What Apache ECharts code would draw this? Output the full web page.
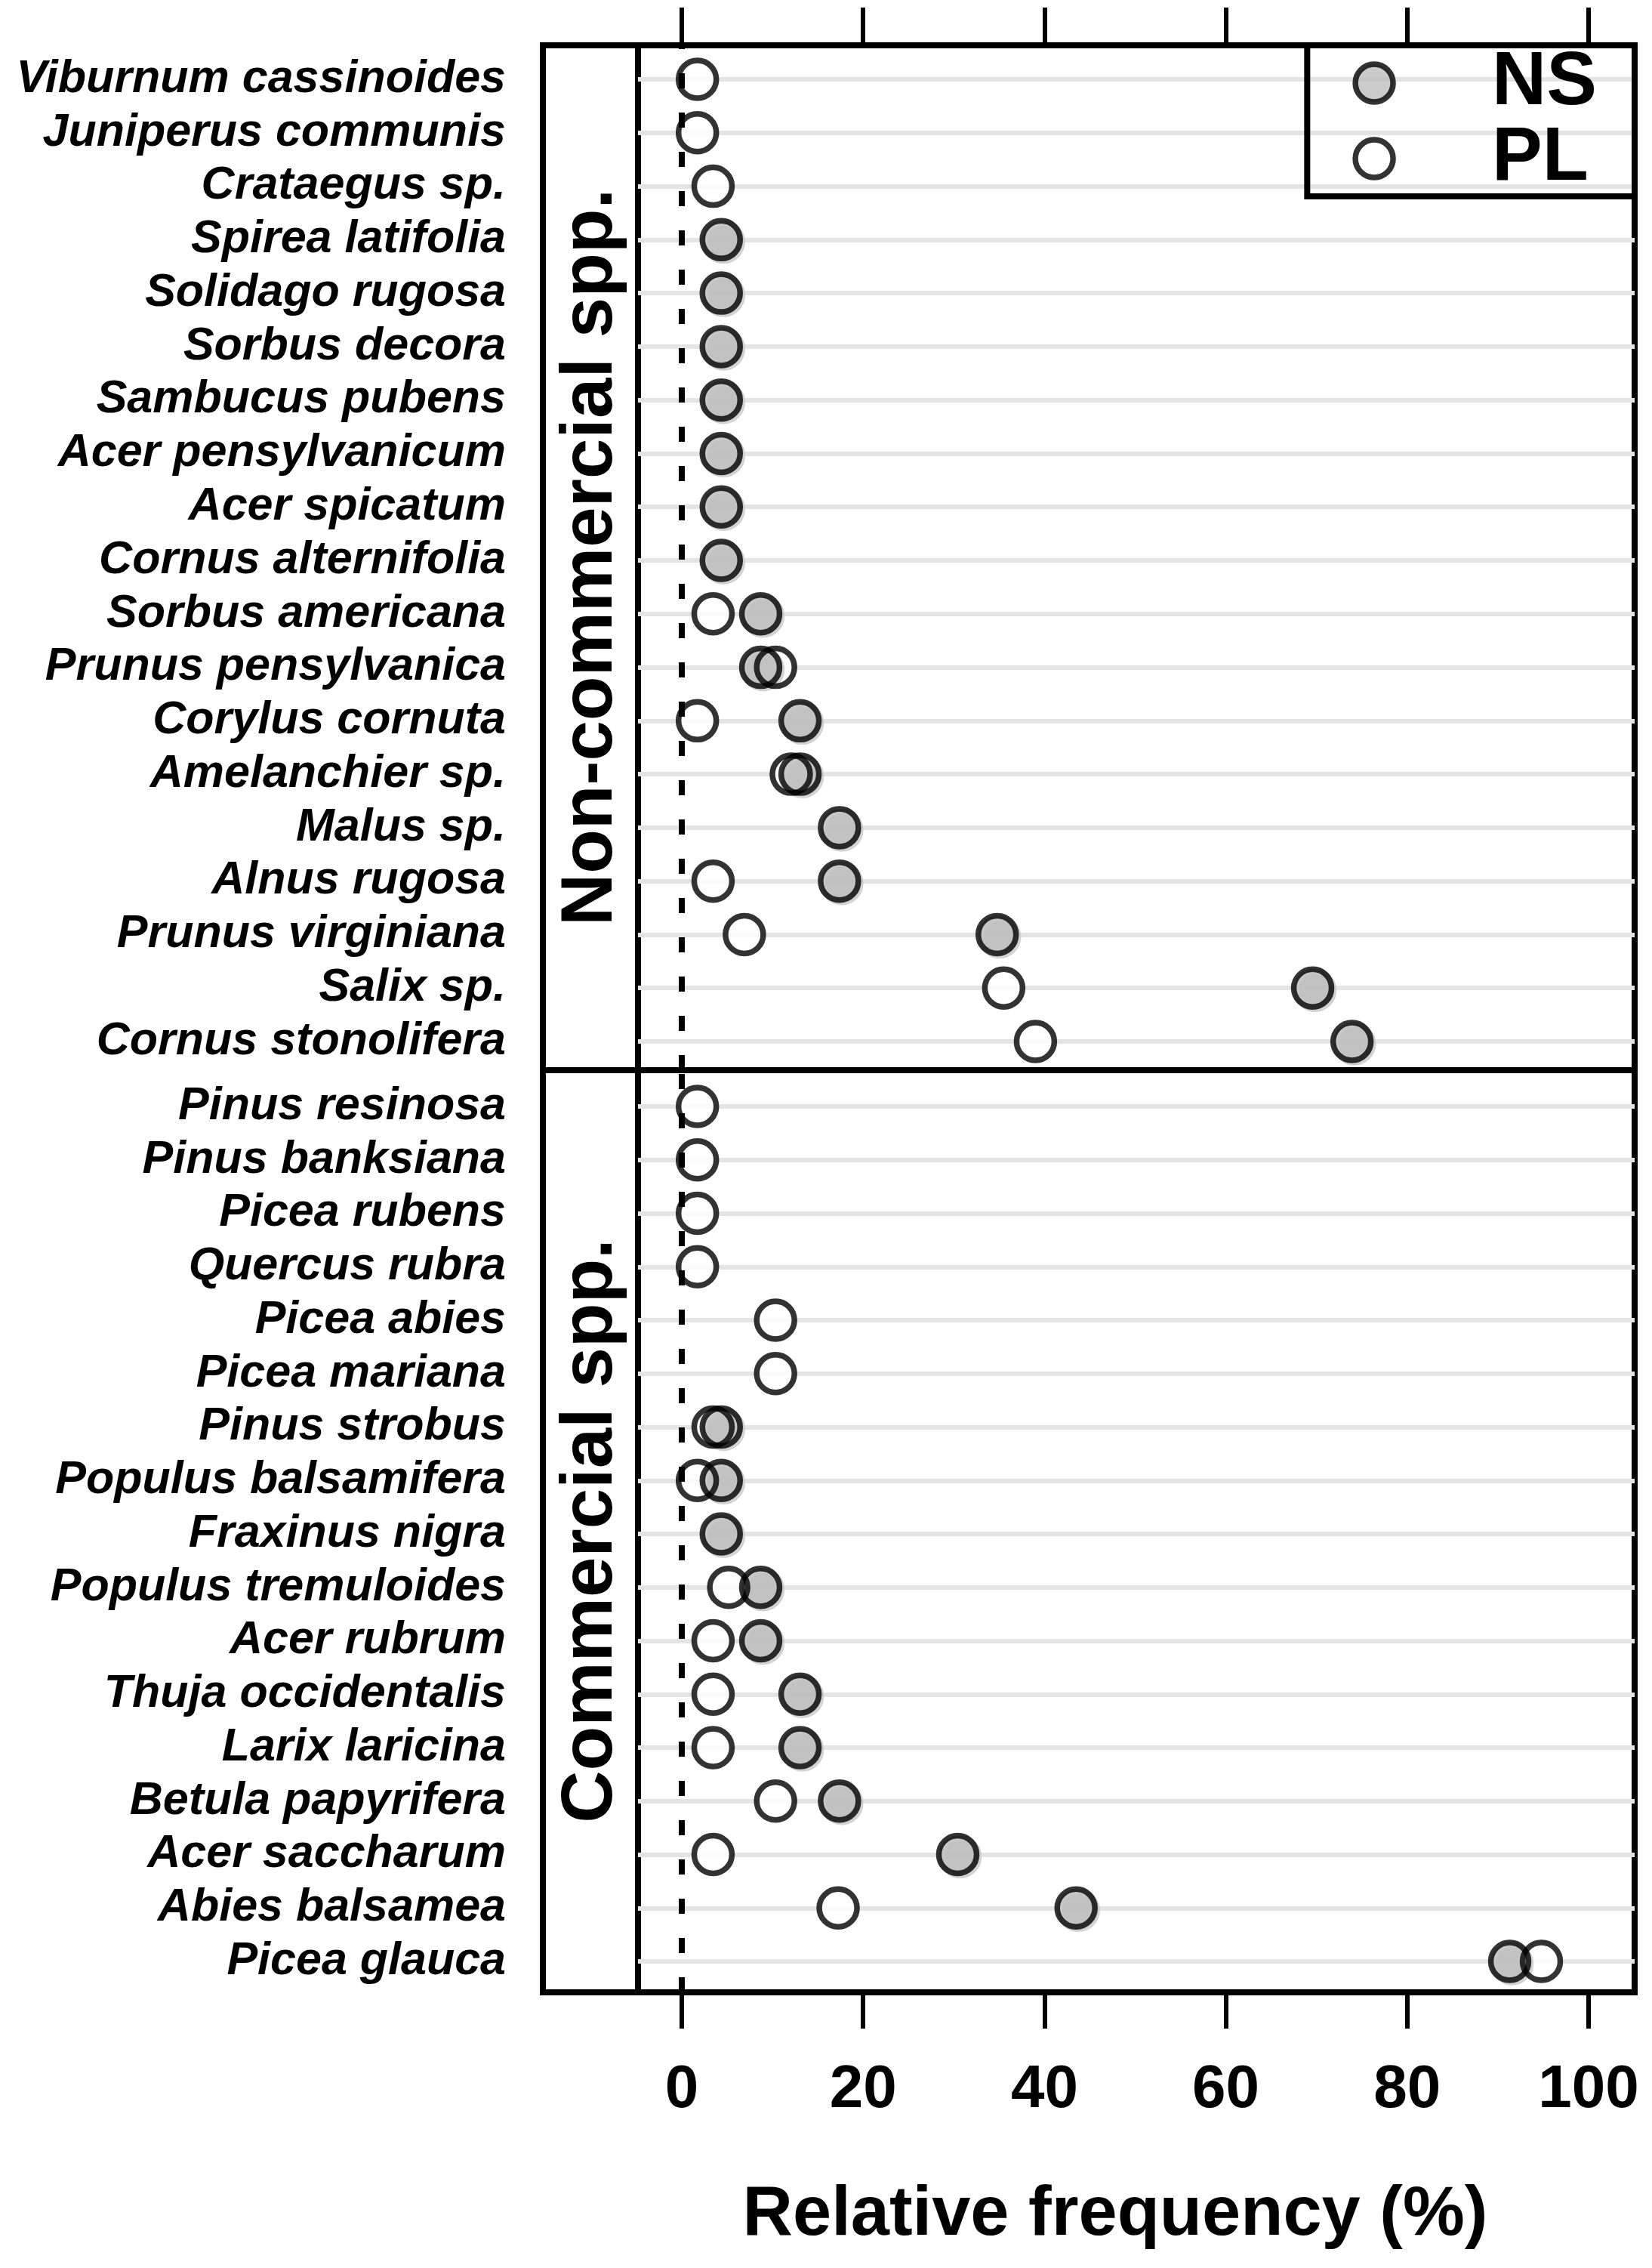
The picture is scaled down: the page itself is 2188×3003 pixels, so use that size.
<!DOCTYPE html>
<html>
<head>
<meta charset="utf-8">
<script src="https://cdn.jsdelivr.net/npm/echarts@6/dist/echarts.min.js"></script>
<style>
  html, body { margin: 0; padding: 0; background: #fff; }
  #chart { width: 2188px; height: 3003px; }
</style>
</head>
<body>
<div id="chart"></div>
<script>
// species, top to bottom, in each panel
const nonCommercialSpecies = [
  'Viburnum cassinoides', 'Juniperus communis', 'Crataegus sp.', 'Spirea latifolia',
  'Solidago rugosa', 'Sorbus decora', 'Sambucus pubens', 'Acer pensylvanicum',
  'Acer spicatum', 'Cornus alternifolia', 'Sorbus americana', 'Prunus pensylvanica',
  'Corylus cornuta', 'Amelanchier sp.', 'Malus sp.', 'Alnus rugosa',
  'Prunus virginiana', 'Salix sp.', 'Cornus stonolifera'
]
const nonCommercialNS = [null, null, null, 4.35, 4.35, 4.35, 4.35, 4.35, 4.35, 4.35,
  8.7, 8.7, 13.04, 13.04, 17.39, 17.39, 34.78, 69.57, 73.91]
const nonCommercialPL = [1.72, 1.72, 3.45, null, null, null, null, null, null, null,
  3.45, 10.34, 1.72, 12.07, null, 3.45, 6.9, 35.5, 39.0]

const commercialSpecies = [
  'Pinus resinosa', 'Pinus banksiana', 'Picea rubens', 'Quercus rubra', 'Picea abies',
  'Picea mariana', 'Pinus strobus', 'Populus balsamifera', 'Fraxinus nigra',
  'Populus tremuloides', 'Acer rubrum', 'Thuja occidentalis', 'Larix laricina',
  'Betula papyrifera', 'Acer saccharum', 'Abies balsamea', 'Picea glauca'
]
const commercialNS = [null, null, null, null, null, null, 4.35, 4.35, 4.35, 8.7, 8.7,
  13.04, 13.04, 17.39, 30.43, 43.48, 91.3]
const commercialPL = [1.72, 1.72, 1.72, 1.72, 10.34, 10.34, 3.45, 1.72, null, 5.17, 3.45,
  3.45, 3.45, 10.34, 3.45, 17.24, 94.8]

const xTicks = [0, 20, 40, 60, 80, 100]

// layout
const FONT = '"Liberation Sans", Arial, sans-serif'
const X_MIN = -4.83, X_MAX = 105.08
const LINE_W = 8
const SYM = 50
const RING = 7.5

const toPoints = (vals, names) =>
  vals.map((v, i) => (v == null ? null : [v, names[i]])).filter(Boolean)

const chart = echarts.init(document.getElementById('chart'), null, { renderer: 'canvas' })

const hiddenValueY = gi => ({ gridIndex: gi, type: 'value', min: 0, max: 1, show: false })
const hiddenX = gi => ({ gridIndex: gi, type: 'value', min: X_MIN, max: X_MAX, show: false })

const categoryY = (gi, names) => ({
  gridIndex: gi,
  type: 'category',
  data: names,
  inverse: true,
  boundaryGap: false,
  axisLine: { show: false },
  axisTick: { show: false },
  axisLabel: {
    interval: 0,
    margin: 175,
    fontFamily: FONT,
    fontSize: 61,
    fontStyle: 'italic',
    fontWeight: 'bold',
    color: '#000'
  },
  splitLine: { show: true, interval: 0, lineStyle: { color: '#e4e4e4', width: 6 } }
})

const frameGrid = (left, width, top, height) => ({
  left, top, height,
  ...(width ? { width } : { right: 23 }),
  outerBoundsMode: 'none',
  show: true,
  borderColor: '#000',
  borderWidth: LINE_W,
  backgroundColor: 'transparent'
})

function pointSeries(gi, ns, pl, names){
  return [
    { // white underlay for the open circles
      name: 'PL-fill', type: 'scatter', xAxisIndex: gi, yAxisIndex: gi, z: 2, silent: true,
      symbolSize: SYM, data: toPoints(pl, names),
      itemStyle: { color: '#fff', borderWidth: 0 }
    },
    {
      name: 'NS', type: 'scatter', xAxisIndex: gi, yAxisIndex: gi, z: 3,
      symbolSize: SYM, data: toPoints(ns, names),
      itemStyle: {
        color: '#bebebe', borderColor: '#000', borderWidth: RING,
        shadowColor: '#c8c8c8', shadowOffsetX: 3, shadowOffsetY: 3, shadowBlur: 0
      }
    },
    {
      name: 'PL', type: 'scatter', xAxisIndex: gi, yAxisIndex: gi, z: 4,
      symbolSize: SYM, data: toPoints(pl, names),
      itemStyle: { color: 'rgba(255,255,255,0)', borderColor: '#000', borderWidth: RING }
    }
  ]
}

const zeroLine = gi => ({
  type: 'line', xAxisIndex: gi, yAxisIndex: gi, z: 3, silent: true,
  symbol: 'none', data: [[0, 0], [0, 1]],
  lineStyle: { color: '#000', width: 8, type: [20, 32] }
})

chart.setOption({
  backgroundColor: '#fff',
  animation: false,
  grid: [
    frameGrid(719, 126, 60, 1357),      // strip, non-commercial
    frameGrid(719, 126, 1417, 1221),    // strip, commercial
    frameGrid(845, null, 60, 1357),     // panel frame top
    frameGrid(845, null, 1417, 1221),   // panel frame bottom
    { left: 845, right: 23, top: 105, height: 1274, show: false, outerBoundsMode: 'none' },
    { left: 845, right: 23, top: 1465, height: 1132, show: false, outerBoundsMode: 'none' }
  ],
  xAxis: [
    { gridIndex: 0, type: 'value', min: 0, max: 1, show: false },
    { gridIndex: 1, type: 'value', min: 0, max: 1, show: false },
    {
      gridIndex: 2, type: 'value', position: 'top', min: X_MIN, max: X_MAX,
      axisLine: { show: false, onZero: false },
      axisTick: { show: true, inside: false, length: 50, customValues: xTicks, lineStyle: { color: '#000', width: 6 } },
      axisLabel: { show: false },
      splitLine: { show: false }
    },
    {
      gridIndex: 3, type: 'value', position: 'bottom', min: X_MIN, max: X_MAX,
      name: 'Relative frequency (%)',
      nameLocation: 'middle',
      nameGap: 250,
      nameTextStyle: {
        fontFamily: FONT, fontSize: 92, fontWeight: 'bold', color: '#000',
        padding: [0, 56, 0, 0]
      },
      axisLine: { show: false, onZero: false },
      axisTick: { show: true, inside: false, length: 48, customValues: xTicks, lineStyle: { color: '#000', width: 6 } },
      axisLabel: {
        show: true, customValues: xTicks, margin: 90,
        fontFamily: FONT, fontSize: 80, fontWeight: 'bold', color: '#000'
      },
      splitLine: { show: false }
    },
    hiddenX(4),
    hiddenX(5)
  ],
  yAxis: [
    hiddenValueY(0),
    hiddenValueY(1),
    hiddenValueY(2),
    hiddenValueY(3),
    categoryY(4, nonCommercialSpecies),
    categoryY(5, commercialSpecies)
  ],
  legend: {
    data: [
      { name: 'NS', icon: 'circle', itemStyle: { color: '#bebebe', borderColor: '#000', borderWidth: RING } },
      { name: 'PL', icon: 'circle', itemStyle: { color: '#fff', borderColor: '#000', borderWidth: RING } }
    ],
    orient: 'vertical',
    right: 23,
    top: 60,
    padding: [0, 50, 0, 60],
    itemWidth: SYM,
    itemHeight: SYM,
    itemGap: 0,
    borderColor: '#000',
    borderWidth: LINE_W,
    borderRadius: 0,
    selectedMode: false,
    textStyle: {
      fontFamily: FONT, fontSize: 100, fontWeight: 'bold', color: '#000',
      padding: [0, 0, 0, 126]
    }
  },
  graphic: [
    {
      type: 'text', x: 784, y: 738, rotation: Math.PI / 2,
      style: {
        text: 'Non-commercial spp.', fill: '#000',
        font: 'bold 96px ' + FONT, textAlign: 'center', textVerticalAlign: 'middle'
      }
    },
    {
      type: 'text', x: 784, y: 2027, rotation: Math.PI / 2,
      style: {
        text: 'Commercial spp.', fill: '#000',
        font: 'bold 96px ' + FONT, textAlign: 'center', textVerticalAlign: 'middle'
      }
    }
  ],
  series: [
    zeroLine(2),
    zeroLine(3),
    ...pointSeries(4, nonCommercialNS, nonCommercialPL, nonCommercialSpecies),
    ...pointSeries(5, commercialNS, commercialPL, commercialSpecies)
  ]
})
</script>
</body>
</html>
